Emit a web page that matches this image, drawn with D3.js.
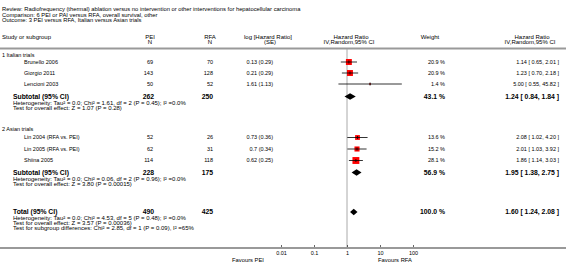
<!DOCTYPE html>
<html>
<head>
<meta charset="utf-8">
<script src="https://cdn.jsdelivr.net/npm/d3@7"></script>
<style>
  body { margin:0; background:#fff; }
  text { font-family: "Liberation Sans", Arial, sans-serif; fill:#000; }
</style>
</head>
<body>
<div id="chart-area"></div>
<script>
// Forest plot - PEI vs RFA, Italian vs Asian trials

var titleLines = [
  "Review:   Radiofrequency (thermal) ablation versus no intervention or other interventions for hepatocellular carcinoma",
  "Comparison:   6 PEI or PAI versus RFA, overall survival, other",
  "Outcome:   3 PEI versus RFA, Italian versus Asian trials"
];

// study level data
var studies  = ["Brunello 2006", "Giorgio 2011", "Lencioni 2003", "Lin 2004 (RFA vs. PEI)", "Lin 2005 (RFA vs. PEI)", "Shiina 2005"];
var subgroup = [0, 0, 0, 1, 1, 1];
var peiN     = [69, 143, 50, 52, 62, 114];
var rfaN     = [70, 128, 52, 26, 31, 118];
var logHR    = [0.13, 0.21, 1.61, 0.73, 0.7, 0.62];
var seLogHR  = [0.29, 0.29, 1.13, 0.36, 0.34, 0.25];
var weight   = [20.9, 20.9, 1.4, 13.6, 15.2, 28.1];
var hrEst    = [1.14, 1.23, 5.00, 2.08, 2.01, 1.86];
var hrLow    = [0.65, 0.70, 0.55, 1.02, 1.03, 1.14];
var hrHigh   = [2.01, 2.18, 45.82, 4.20, 3.92, 3.03];

// subgroup / total data
var groupNames  = ["1 Italian trials", "2 Asian trials"];
var groupPeiN   = [262, 228];
var groupRfaN   = [250, 175];
var groupWeight = [43.1, 56.9];
var groupEst    = [1.24, 1.95];
var groupLow    = [0.84, 1.38];
var groupHigh   = [1.84, 2.75];
var groupNotes  = [
  ["Heterogeneity: Tau\u00b2 = 0.0; Chi\u00b2 = 1.61, df = 2 (P = 0.45); I\u00b2 =0.0%",
   "Test for overall effect: Z = 1.07 (P = 0.28)"],
  ["Heterogeneity: Tau\u00b2 = 0.0; Chi\u00b2 = 0.06, df = 2 (P = 0.96); I\u00b2 =0.0%",
   "Test for overall effect: Z = 3.80 (P = 0.00015)"]
];
var totalPeiN = 490, totalRfaN = 425, totalWeight = 100.0;
var totalEst = 1.60, totalLow = 1.24, totalHigh = 2.08;
var totalNotes = [
  "Heterogeneity: Tau\u00b2 = 0.0; Chi\u00b2 = 4.53, df = 5 (P = 0.48); I\u00b2 =0.0%",
  "Test for overall effect: Z = 3.57 (P = 0.00036)",
  "Test for subgroup differences: Chi\u00b2 = 2.85, df = 1 (P = 0.09), I\u00b2 =65%"
];
var tickValues = [0.01, 0.1, 1, 10, 100];
var tickLabels = ["0.01", "0.1", "1", "10", "100"];

var width = 566, height = 272;
var svg = d3.select("#chart-area").append("svg")
  .attr("width", width)
  .attr("height", height);

var x = d3.scaleLog().domain([0.01, 100]).range([281, 413]);

var fs = 5.5, fsNote = 6, fsBold = 6.8;
var col = { name:24, group:2, sub:13, pei:153, rfa:213, log:273, plot:x(1), weight:445, hr:559 };

function txt(xp, yp, s, opts) {
  opts = opts || {};
  return svg.append("text")
    .attr("x", xp).attr("y", yp)
    .attr("dy", "0.35em")
    .attr("font-size", (opts.size || fs) + "px")
    .attr("font-weight", opts.bold ? "bold" : "normal")
    .attr("text-anchor", opts.anchor || "start")
    .text(s);
}
function ci(e, l, h) { return e.toFixed(2) + " [ " + l.toFixed(2) + ", " + h.toFixed(2) + " ]"; }
function pct(w) { return w.toFixed(1) + " %"; }

// title
var titleY = [9, 14.5, 20];
titleLines.forEach(function(t, i) { txt(2, titleY[i], t, { size:5.8 }); });

// headers
var h1 = 37, h2 = 42;
txt(2, h1, "Study or subgroup", { size:6 });
txt(150, h1, "PEI", { size:6, anchor:"middle" });
txt(150, h2, "N", { size:6, anchor:"middle" });
txt(210, h1, "RFA", { size:6, anchor:"middle" });
txt(210, h2, "N", { size:6, anchor:"middle" });
txt(268, h1, "log [Hazard Ratio]", { size:6, anchor:"middle" });
txt(270, h2, "(SE)", { size:6, anchor:"middle" });
txt(351, h1, "Hazard Ratio", { size:6, anchor:"middle" });
txt(349, h2, "IV,Random,95% CI", { size:6, anchor:"middle" });
txt(430, h1, "Weight", { size:6, anchor:"middle" });
txt(532, h1, "Hazard Ratio", { size:6, anchor:"middle" });
txt(530, h2, "IV,Random,95% CI", { size:6, anchor:"middle" });

svg.append("line")
  .attr("x1", 0).attr("x2", width)
  .attr("y1", 48.5).attr("y2", 48.5)
  .attr("stroke", "#999").attr("stroke-width", 2);

// row layout
var studyY = [62, 73, 84, 137.5, 149, 160.5];
var groupLabelY = [55, 129];
var subtotalY = [96.5, 172.5];
var totalY = 212;

// vertical line of no effect
var axisY = 248;
svg.append("line")
  .attr("x1", x(1)).attr("x2", x(1))
  .attr("y1", 49).attr("y2", axisY)
  .attr("stroke", "#aaa").attr("stroke-width", 1);

// groups
groupNames.forEach(function(g, gi) {
  txt(col.group, groupLabelY[gi], g);
  var sy = subtotalY[gi];
  txt(col.sub, sy, "Subtotal (95% CI)", { size:fsBold, bold:true });
  txt(col.pei + 1, sy, groupPeiN[gi], { size:fsBold, bold:true, anchor:"end" });
  txt(col.rfa, sy, groupRfaN[gi], { size:fsBold, bold:true, anchor:"end" });
  txt(col.weight, sy, pct(groupWeight[gi]), { size:fsBold, bold:true, anchor:"end" });
  txt(col.hr, sy, ci(groupEst[gi], groupLow[gi], groupHigh[gi]), { size:fsBold, bold:true, anchor:"end" });
  groupNotes[gi].forEach(function(n, k) { txt(col.sub, sy + 6 + k * 5, n, { size:fsNote }); });
  diamond(groupEst[gi], groupLow[gi], groupHigh[gi], sy);
});

// studies
studies.forEach(function(s, i) {
  var y = studyY[i];
  txt(col.name, y, s);
  txt(col.pei, y, peiN[i], { anchor:"end" });
  txt(col.rfa, y, rfaN[i], { anchor:"end" });
  txt(col.log, y, logHR[i] + " (" + seLogHR[i] + ")", { anchor:"end" });
  txt(col.weight, y, pct(weight[i]), { anchor:"end" });
  txt(col.hr, y, ci(hrEst[i], hrLow[i], hrHigh[i]), { anchor:"end" });

  var side = 1.3 * Math.sqrt(weight[i]);
  svg.append("rect")
    .attr("x", x(hrEst[i]) - side / 2)
    .attr("y", y - side / 2)
    .attr("width", side).attr("height", side)
    .attr("fill", "#ff0000");
  svg.append("line")
    .attr("x1", x(hrLow[i])).attr("x2", x(hrHigh[i]))
    .attr("y1", y).attr("y2", y)
    .attr("stroke", "#000").attr("stroke-width", 0.8);
  svg.append("line")
    .attr("x1", x(hrEst[i])).attr("x2", x(hrEst[i]))
    .attr("y1", y - 1.5).attr("y2", y + 1.5)
    .attr("stroke", "#000").attr("stroke-width", 0.8);
});

// total
txt(col.sub, totalY, "Total (95% CI)", { size:fsBold, bold:true });
txt(col.pei + 1, totalY, totalPeiN, { size:fsBold, bold:true, anchor:"end" });
txt(col.rfa, totalY, totalRfaN, { size:fsBold, bold:true, anchor:"end" });
txt(col.weight, totalY, pct(totalWeight), { size:fsBold, bold:true, anchor:"end" });
txt(col.hr, totalY, ci(totalEst, totalLow, totalHigh), { size:fsBold, bold:true, anchor:"end" });
totalNotes.forEach(function(n, k) { txt(col.sub, totalY + 5.5 + k * 5, n, { size:fsNote }); });
diamond(totalEst, totalLow, totalHigh, totalY);

function diamond(e, l, h, y) {
  svg.append("path")
    .attr("d", "M" + x(l) + "," + y + "L" + x(e) + "," + (y - 3.2) +
               "L" + x(h) + "," + y + "L" + x(e) + "," + (y + 3.2) + "Z")
    .attr("fill", "#000");
}

// bottom axis
svg.append("line")
  .attr("x1", 0).attr("x2", width)
  .attr("y1", axisY).attr("y2", axisY)
  .attr("stroke", "#999").attr("stroke-width", 2);

var xAxisCall = d3.axisBottom(x)
  .tickValues(tickValues)
  .tickFormat(function(d, i) { return tickLabels[i]; })
  .tickSizeInner(-2).tickSizeOuter(0)
  .tickPadding(4);
var ax = svg.append("g")
  .attr("class", "x axis")
  .attr("transform", "translate(0," + (axisY - 1) + ")")
  .call(xAxisCall);
ax.select(".domain").remove();
ax.selectAll("line").attr("stroke", "#000").attr("stroke-width", 0.6);
ax.selectAll("text")
  .attr("font-size", "5.5px")
  .attr("font-family", "Liberation Sans, Arial, sans-serif");

txt(248, 260, "Favours PEI", { anchor:"middle", size:5.8 });
txt(395, 260, "Favours RFA", { anchor:"middle", size:5.8 });
</script>
</body>
</html>
